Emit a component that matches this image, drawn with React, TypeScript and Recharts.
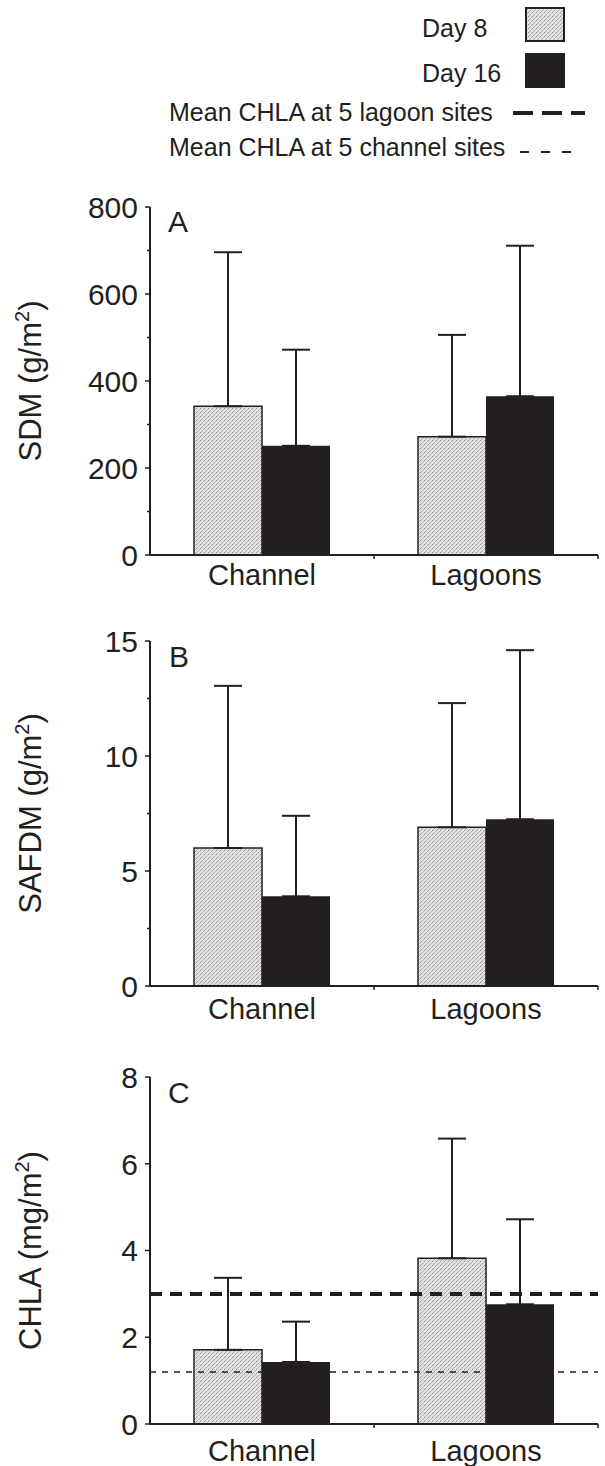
import React from "react";
import { BarChart, Bar, XAxis, YAxis, ErrorBar, ReferenceLine } from "recharts";

// categories on the x axis
const categories = ["Channel", "Lagoons"];

// panel A: sediment dry mass, mean and SD (g/m2)
const sdmDay8 = [342, 272];
const sdmDay8Sd = [354, 234];
const sdmDay16 = [251, 365];
const sdmDay16Sd = [221, 346];
const sdmTicks = [0, 100, 200, 300, 400, 500, 600, 700, 800];
const sdmLabels = [0, 200, 400, 600, 800];

// panel B: sediment ash-free dry mass (g/m2)
const safdmDay8 = [6.0, 6.9];
const safdmDay8Sd = [7.05, 5.4];
const safdmDay16 = [3.9, 7.25];
const safdmDay16Sd = [3.5, 7.35];
const safdmTicks = [0, 2.5, 5, 7.5, 10, 12.5, 15];
const safdmLabels = [0, 5, 10, 15];

// panel C: chlorophyll a (mg/m2)
const chlaDay8 = [1.71, 3.82];
const chlaDay8Sd = [1.66, 2.76];
const chlaDay16 = [1.43, 2.76];
const chlaDay16Sd = [0.93, 1.96];
const chlaTicks = [0, 2, 4, 6, 8];
const chlaLabels = [0, 2, 4, 6, 8];

// site means drawn as dashed lines in panel C
const lagoonSiteMean = 3.0;
const channelSiteMean = 1.2;

const legendLabels = [
  "Day 8",
  "Day 16",
  "Mean CHLA at 5 lagoon sites",
  "Mean CHLA at 5 channel sites",
];

const INK = "#231f20";
const FONT = "'Liberation Sans', Arial, sans-serif";
const Y_TICK_SIZE = 5;
const Y_TICK_MARGIN = 7;

function buildRows(d8: number[], d8sd: number[], d16: number[], d16sd: number[]) {
  return categories.map((name, i) => ({
    name,
    day8: d8[i],
    day8Err: [0, d8sd[i]],
    day16: d16[i],
    day16Err: [0, d16sd[i]],
  }));
}

function YTick(props: any) {
  const { x, y, payload, labels } = props;
  const isMajor = labels.includes(payload.value);
  const axisX = x + Y_TICK_MARGIN + Y_TICK_SIZE;
  return (
    <g>
      <line x1={axisX - (isMajor ? 5 : 3)} x2={axisX} y1={y} y2={y} stroke={INK} strokeWidth={1.5} />
      {isMajor && (
        <text x={x} y={y} dy="0.36em" textAnchor="end" fontSize={30} fill={INK} fontFamily={FONT}>
          {payload.value}
        </text>
      )}
    </g>
  );
}

function XTick(props: any) {
  const { x, y, payload, width, labelDy } = props;
  const half = (typeof width === "number" ? width : 448) / (categories.length * 2);
  return (
    <g>
      <line x1={x + half} x2={x + half} y1={y - 4} y2={y} stroke={INK} strokeWidth={1.5} />
      <text x={x} y={y} dy={labelDy} textAnchor="middle" fontSize={29} fill={INK} fontFamily={FONT}>
        {payload.value}
      </text>
    </g>
  );
}

function YTitle(props: any) {
  const { viewBox, name, unit } = props;
  const cx = (viewBox?.x ?? 0) + 30;
  const cy = (viewBox?.y ?? 0) + (viewBox?.height ?? 0) / 2;
  return (
    <text
      x={cx}
      y={cy}
      transform={`rotate(-90 ${cx} ${cy})`}
      textAnchor="middle"
      dy="0.36em"
      fontSize={31}
      fill={INK}
      fontFamily={FONT}
    >
      <tspan>{`${name} (${unit}/m`}</tspan>
      <tspan dy={-12} fontSize={20}>2</tspan>
      <tspan dy={12}>)</tspan>
    </text>
  );
}

interface PanelProps {
  rows: any[];
  ticks: number[];
  labels: number[];
  name: string;
  unit: string;
  top: number;
  plotTop: number;
  plotBottom: number;
  height: number;
  labelDy: number;
  children?: React.ReactNode;
}

function Panel({ rows, ticks, labels, name, unit, top, plotTop, plotBottom, height, labelDy, children }: PanelProps) {
  const marginTop = plotTop - top;
  const bottomSpace = height - (plotBottom - top);
  return (
    <div style={{ position: "absolute", left: 0, top }}>
      <BarChart
        width={605}
        height={height}
        data={rows}
        margin={{ top: marginTop, right: 7, left: 0, bottom: bottomSpace - 40 }}
        barSize={68}
        barGap={0}
      >
        <XAxis
          dataKey="name"
          height={40}
          axisLine={{ stroke: INK, strokeWidth: 2 }}
          tickLine={false}
          tickSize={4}
          tickMargin={0}
          interval={0}
          tick={(p: any) => <XTick {...p} labelDy={labelDy} />}
        />
        <YAxis
          width={150}
          domain={[ticks[0], ticks[ticks.length - 1]]}
          ticks={ticks}
          interval={0}
          axisLine={{ stroke: INK, strokeWidth: 2 }}
          tickLine={false}
          tickSize={Y_TICK_SIZE}
          tickMargin={Y_TICK_MARGIN}
          tick={(p: any) => <YTick {...p} labels={labels} />}
          label={{ content: (p: any) => <YTitle {...p} name={name} unit={unit} /> }}
        />
        <Bar dataKey="day8" fill="url(#stipple)" stroke={INK} strokeWidth={1.5} isAnimationActive={false}>
          <ErrorBar dataKey="day8Err" direction="y" width={14} stroke={INK} strokeWidth={2} />
        </Bar>
        <Bar dataKey="day16" fill={INK} isAnimationActive={false}>
          <ErrorBar dataKey="day16Err" direction="y" width={14} stroke={INK} strokeWidth={2} />
        </Bar>
        {children}
      </BarChart>
    </div>
  );
}

export default function App() {
  const sdmRows = buildRows(sdmDay8, sdmDay8Sd, sdmDay16, sdmDay16Sd);
  const safdmRows = buildRows(safdmDay8, safdmDay8Sd, safdmDay16, safdmDay16Sd);
  const chlaRows = buildRows(chlaDay8, chlaDay8Sd, chlaDay16, chlaDay16Sd);

  return (
    <div style={{ position: "absolute", left: 0, top: 0, width: 605, height: 1466, background: "#fff" }}>
      <svg width={0} height={0} style={{ position: "absolute" }}>
        <defs>
          <pattern id="stipple" patternUnits="userSpaceOnUse" width={4} height={4}>
            <rect width={4} height={4} fill="#e2e2e2" />
            <rect x={0} y={0} width={1} height={1} fill="#8c8c8c" />
            <rect x={2} y={2} width={1} height={1} fill="#a6a6a6" />
            <rect x={3} y={1} width={1} height={1} fill="#bcbcbc" />
            <rect x={1} y={3} width={1} height={1} fill="#b0b0b0" />
          </pattern>
        </defs>
      </svg>

      <Panel rows={sdmRows} ticks={sdmTicks} labels={sdmLabels} name="SDM" unit="g"
        top={180} plotTop={207} plotBottom={555} height={420} labelDy={26} />
      <Panel rows={safdmRows} ticks={safdmTicks} labels={safdmLabels} name="SAFDM" unit="g"
        top={610} plotTop={641} plotBottom={986} height={420} labelDy={29} />
      <Panel rows={chlaRows} ticks={chlaTicks} labels={chlaLabels} name="CHLA" unit="mg"
        top={1045} plotTop={1077} plotBottom={1424} height={421} labelDy={33}>
        <ReferenceLine y={lagoonSiteMean} stroke={INK} strokeWidth={4} strokeDasharray="12 8" />
        <ReferenceLine y={channelSiteMean} stroke={INK} strokeWidth={1.5} strokeDasharray="6 6" />
      </Panel>

      <svg width={605} height={1466} style={{ position: "absolute", left: 0, top: 0, pointerEvents: "none" }}>
        <g fontFamily={FONT} fill={INK}>
          <text x={168} y={232} fontSize={30}>A</text>
          <text x={169} y={667} fontSize={30}>B</text>
          <text x={168} y={1103} fontSize={30}>C</text>

          <text x={422} y={37} fontSize={25}>{legendLabels[0]}</text>
          <rect x={526} y={8} width={38} height={33} fill="url(#stipple)" stroke={INK} strokeWidth={2} />
          <text x={422} y={82} fontSize={25}>{legendLabels[1]}</text>
          <rect x={525} y={53} width={40} height={35} fill={INK} />
          <text x={169} y={121} fontSize={25}>{legendLabels[2]}</text>
          <line x1={513} x2={585} y1={113} y2={113} stroke={INK} strokeWidth={4} strokeDasharray="20 9" />
          <text x={169} y={156} fontSize={25}>{legendLabels[3]}</text>
          <line x1={520} x2={572} y1={152} y2={152} stroke={INK} strokeWidth={2} strokeDasharray="9 12" />
        </g>
      </svg>
    </div>
  );
}
